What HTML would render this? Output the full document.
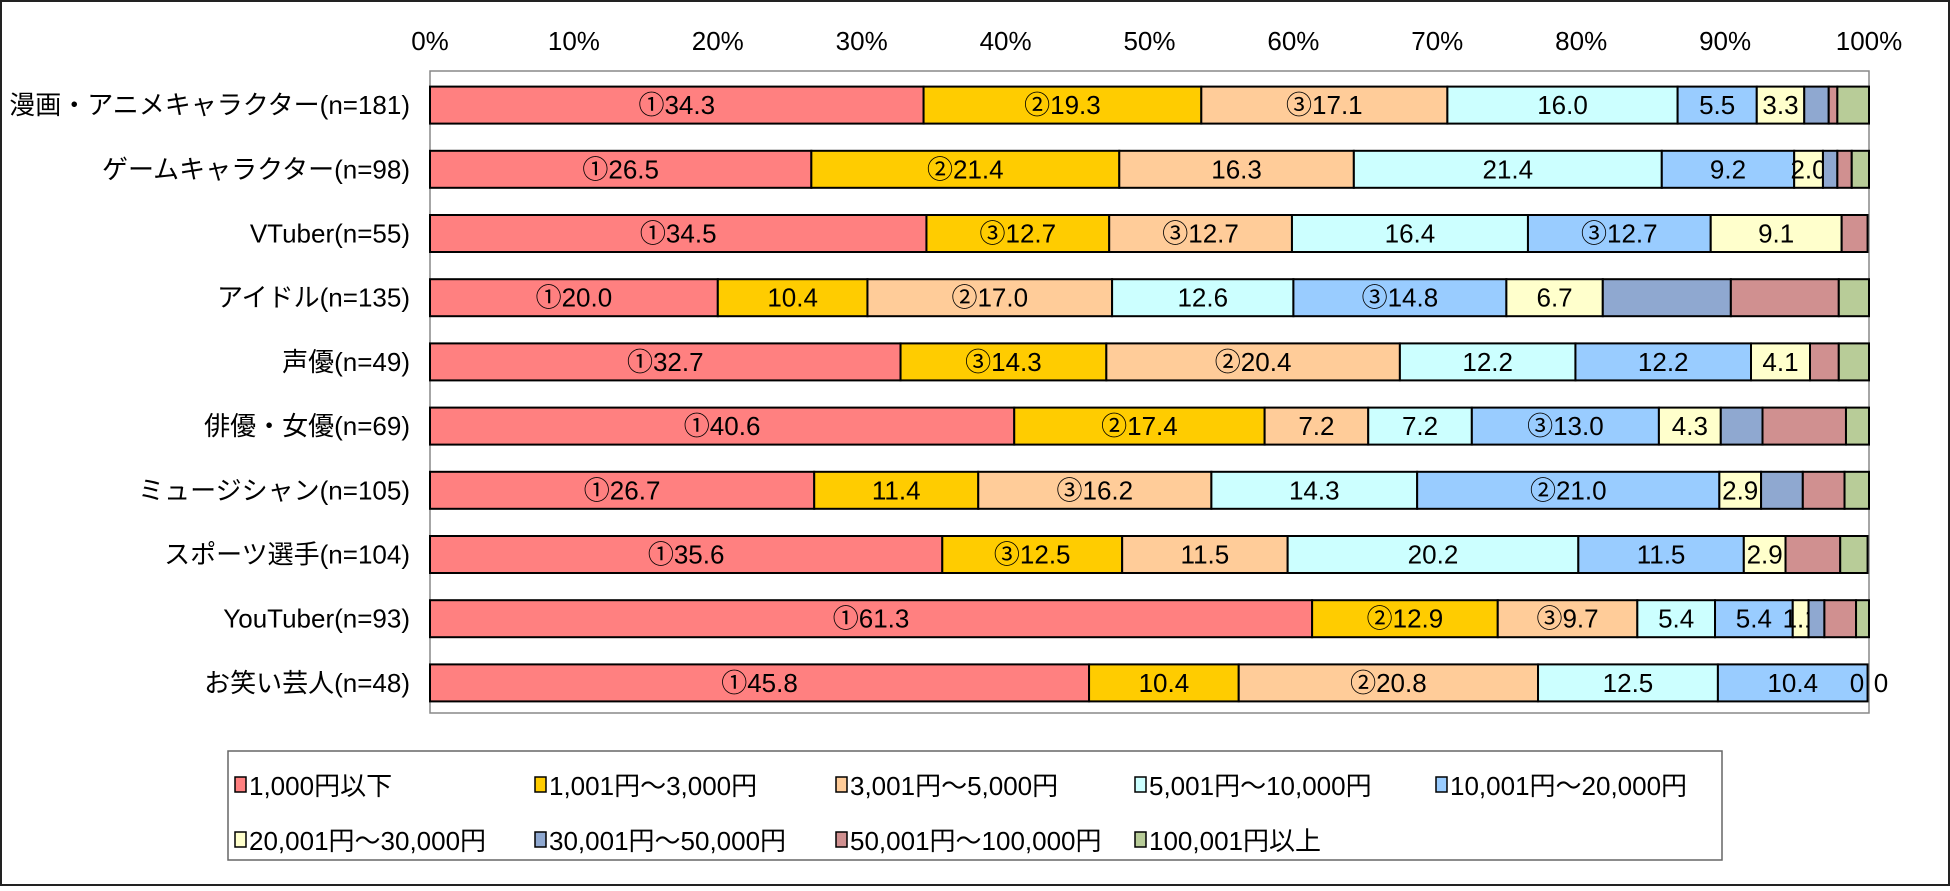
<!DOCTYPE html>
<html><head><meta charset="utf-8"><style>
body{margin:0;background:#fff;}
svg text{font-family:"Liberation Sans","Noto Sans CJK JP",sans-serif;}
</style></head><body>
<svg width="1950" height="886" xmlns="http://www.w3.org/2000/svg">
<rect x="1" y="1" width="1948" height="884" fill="#fff" stroke="#222" stroke-width="2"/>
<g id="plot"></g>
<g id="legend"></g>
</svg>
<script>
const categories = ["漫画・アニメキャラクター(n=181)","ゲームキャラクター(n=98)","VTuber(n=55)","アイドル(n=135)","声優(n=49)","俳優・女優(n=69)","ミュージシャン(n=105)","スポーツ選手(n=104)","YouTuber(n=93)","お笑い芸人(n=48)"];
const seriesNames = ["1,000円以下","1,001円～3,000円","3,001円～5,000円","5,001円～10,000円","10,001円～20,000円","20,001円～30,000円","30,001円～50,000円","50,001円～100,000円","100,001円以上"];
const s1 = [34.3,26.5,34.5,20.0,32.7,40.6,26.7,35.6,61.3,45.8];
const s2 = [19.3,21.4,12.7,10.4,14.3,17.4,11.4,12.5,12.9,10.4];
const s3 = [17.1,16.3,12.7,17.0,20.4,7.2,16.2,11.5,9.7,20.8];
const s4 = [16.0,21.4,16.4,12.6,12.2,7.2,14.3,20.2,5.4,12.5];
const s5 = [5.5,9.2,12.7,14.8,12.2,13.0,21.0,11.5,5.4,10.4];
const s6 = [3.3,2.0,9.1,6.7,4.1,4.3,2.9,2.9,1.1,0];
const s7 = [1.7,1.0,0,8.9,0,2.9,2.9,0,1.1,0];
const s8 = [0.6,1.0,1.8,7.5,2.0,5.8,2.9,3.8,2.2,0];
const s9 = [2.2,1.2,0,2.1,2.1,1.6,1.7,1.9,0.9,0];
const ranks = [
 ["①","②","③","","",""],["①","②","","","",""],["①","③","③","","③",""],
 ["①","","②","","③",""],["①","③","②","","",""],["①","②","","","③",""],
 ["①","","③","","②",""],["①","③","","","",""],["①","②","③","","",""],
 ["①","","②","","",""]];
const ticks = [0,10,20,30,40,50,60,70,80,90,100];
const colors = ["#FF8080","#FFCC00","#FFCC99","#CCFFFF","#99CCFF","#FFFFCC","#8FA8D0","#D09090","#B8CC98"];
const series=[s1,s2,s3,s4,s5,s6,s7,s8,s9];
const NS="http://www.w3.org/2000/svg";
const L=430,R=1869,T=71,B=713;
const x=v=>L+(R-L)*v/100;
const band=(B-T)/categories.length;
const yc=i=>T+band*(i+0.5)+2;
const FS=26;
const plot=document.getElementById('plot');
function mk(tag,at,parent){const e=document.createElementNS(NS,tag);for(const k in at)e.setAttribute(k,at[k]);parent.appendChild(e);return e;}
const frame=mk('rect',{x:L,y:T,width:R-L,height:B-T,fill:'#fff',stroke:'#888','stroke-width':1.5},plot);


ticks.forEach(t=>{const e=mk('text',{x:x(t),y:50,'font-size':FS,'text-anchor':'middle'},plot);e.textContent=t+'%';

});
categories.forEach((c,i)=>{
 const e=mk('text',{x:410,y:yc(i)+9,'font-size':FS,'text-anchor':'end'},plot);e.textContent=c;
 
 
 let acc=0;const h=37;
 series.forEach((s,k)=>{
  const v=s[i];
  if(v>0){
   const r=mk('rect',{x:x(acc),y:yc(i)-h/2,width:x(acc+v)-x(acc),height:h,fill:colors[k],stroke:'#000','stroke-width':2},plot);
   
   
   if(k<6){const tx=mk('text',{x:(x(acc)+x(acc+v))/2,y:yc(i)+9,'font-size':FS,'text-anchor':'middle'},plot);
    tx.textContent=ranks[i][k]+v.toFixed(1);
    
    }
  }
  acc+=v;
 });
 if(s6[i]===0&&s7[i]===0){[-12,12].forEach(d=>{const z=mk('text',{x:R+d,y:yc(i)+9,'font-size':FS,'text-anchor':'middle'},plot);z.textContent='0';
  
  });}
});
const lg=document.getElementById('legend');
const lb=mk('rect',{x:228,y:751,width:1494,height:109,fill:'#fff',stroke:'#666','stroke-width':1.5},lg);


const cols=[235,535,836,1135,1436];
seriesNames.forEach((n,k)=>{
 const row=k<5?0:1,col=k<5?k:k-5;
 const cx=cols[col],cy=row?841:786;
 const g=mk('g',{},lg);
 
 
 mk('rect',{x:cx,y:cy-9,width:11,height:15,fill:colors[k],stroke:'#000','stroke-width':1.5},g);
 const t=mk('text',{x:cx+14,y:cy+9,'font-size':FS},g);t.textContent=n;
});
</script>
</body></html>
